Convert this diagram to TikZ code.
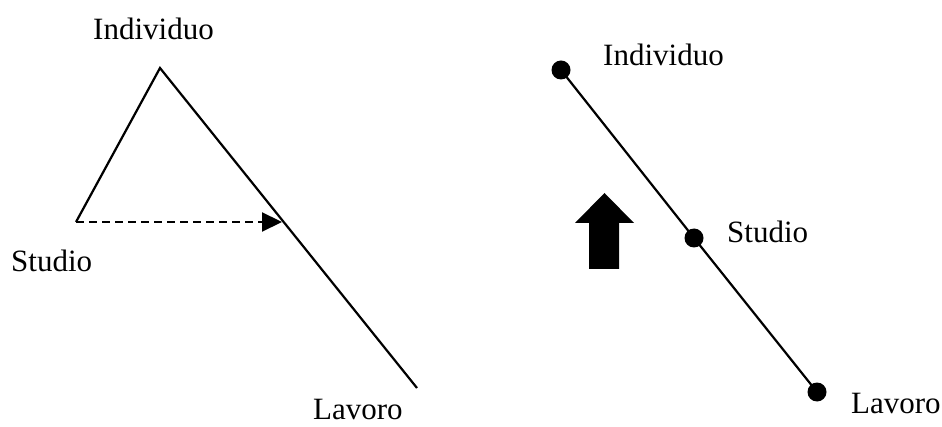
\documentclass[tikz,border=0pt]{standalone}
\usepackage{fontspec}
\setmainfont{Liberation Serif}
\usetikzlibrary{arrows.meta}
\tikzset{
  ln/.style={line width=2.2pt, line cap=butt, line join=miter},
  lbl/.style={inner sep=0pt, anchor=base west, font=\fontsize{31}{36}\selectfont},
  dotnode/.style={circle, fill=black, inner sep=0pt, minimum size=19pt},
}
\begin{document}
\begin{tikzpicture}[x=1pt,y=-1pt]
\useasboundingbox (0,0) rectangle (942,427);
% left diagram
\coordinate (apex) at (160,68);
\coordinate (corner) at (76,222);
\coordinate (lend) at (417,388);
\coordinate (hit) at (282,222);
\draw[ln] (corner) -- (apex) -- (lend);
\draw[ln, dash pattern=on 8pt off 5pt, -{Triangle[length=20pt,width=19pt]}] (corner) -- (hit);
\node[lbl] (lind) at (93,40) {Individuo};
\node[lbl] (lstu) at (11,272) {Studio};
\node[lbl] (llav) at (313,419) {Lavoro};
% right diagram
\node[dotnode] (rind) at (561,70) {};
\node[dotnode] (rstu) at (694,238) {};
\node[dotnode] (rlav) at (817,392) {};
\draw[ln] (rind.center) -- (rstu.center) -- (rlav.center);
\node[lbl] (tind) at (603,66) {Individuo};
\node[lbl] (tstu) at (727,243) {Studio};
\node[lbl] (tlav) at (851,413) {Lavoro};
% block arrow
\fill (604.5,193) -- (634,223) -- (619,223) -- (619,269) -- (589,269) -- (589,223) -- (575,223) -- cycle;
\end{tikzpicture}
\end{document}
